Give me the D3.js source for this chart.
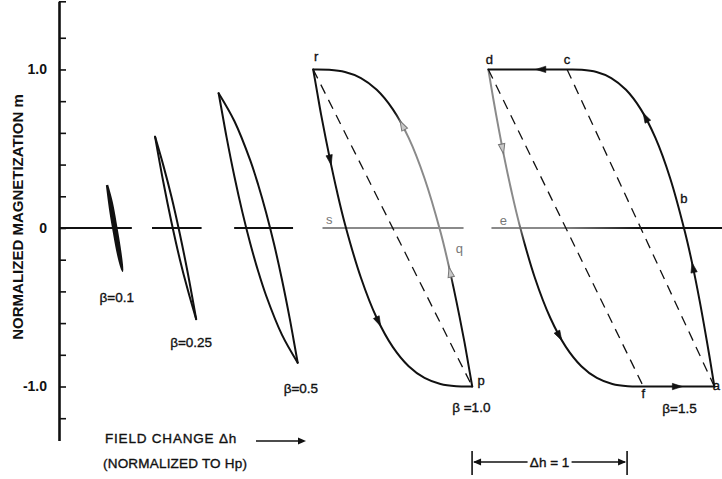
<!DOCTYPE html>
<html><head><meta charset="utf-8">
<script src="https://cdn.jsdelivr.net/npm/d3@7"></script>
<style>
html,body{margin:0;padding:0;background:#fff;}
svg{display:block;}
text{font-family:"Liberation Sans", Arial, sans-serif;fill:#111;}
.ink{stroke:#111;stroke-width:0.35px;}
</style></head><body>
<svg id="chart" width="722" height="479"></svg>
<script>
// Loop amplitudes, their labels, and the field value at each loop's upper tip
const betas = [0.1, 0.25, 0.5, 1.0, 1.5];
const betaLabels = ["β=0.1", "β=0.25", "β=0.5", "β =1.0", "β=1.5"];
const tipField = [0.31, 0.62, 1.03, 1.64, 2.77];

// Descending branches, read from the upper tip: [Δh from tip, m]
const down01 = [[0,0.27],[0.02,0.12],[0.04,0.0],[0.07,-0.16],[0.1,-0.27]];
const down025 = [[0,0.575],[0.053,0.29],[0.106,0.035],[0.159,-0.195],[0.212,-0.395],[0.265,-0.575]];
const down05 = [[0,0.85],[0.026,0.708],[0.051,0.573],[0.102,0.323],[0.153,0.1],[0.204,-0.098],[0.255,-0.273],[0.306,-0.426],[0.408,-0.673],[0.51,-0.85]];
const down10 = [[0,1],[0.026,0.854],[0.051,0.715],[0.103,0.458],[0.154,0.228],[0.205,0.024],[0.308,-0.314],[0.41,-0.568],[0.513,-0.75],[0.616,-0.872],[0.718,-0.946],[0.821,-0.984],[0.923,-0.998],[1.026,-1]];
const down15 = [[0,1],[0.025,0.854],[0.05,0.715],[0.1,0.458],[0.15,0.228],[0.2,0.024],[0.3,-0.314],[0.4,-0.568],[0.5,-0.75],[0.6,-0.872],[0.7,-0.946],[0.8,-0.984],[0.9,-0.998],[1.0,-1],[1.458,-1]];

// Ascending branches, read from the lower tip back to the upper tip
const up01 = [[0.1,-0.27],[0.08,-0.12],[0.06,0.0],[0.03,0.16],[0,0.27]];
const up025 = [[0.265,-0.575],[0.212,-0.29],[0.159,-0.035],[0.106,0.195],[0.053,0.395],[0,0.575]];
const up05 = [[0.51,-0.85],[0.484,-0.708],[0.459,-0.573],[0.408,-0.323],[0.357,-0.1],[0.306,0.098],[0.255,0.273],[0.204,0.426],[0.102,0.673],[0,0.85]];
const up10 = [[1.026,-1],[1.0,-0.854],[0.975,-0.715],[0.923,-0.458],[0.872,-0.228],[0.821,-0.024],[0.718,0.314],[0.616,0.568],[0.513,0.75],[0.41,0.872],[0.308,0.946],[0.205,0.984],[0.103,0.998],[0,1]];
const up15 = [[1.458,-1],[1.434,-0.854],[1.41,-0.715],[1.363,-0.458],[1.316,-0.228],[1.268,-0.024],[1.173,0.314],[1.078,0.568],[0.983,0.75],[0.888,0.872],[0.793,0.946],[0.698,0.984],[0.603,0.998],[0.508,1],[0,1]];

const downBranches = [down01, down025, down05, down10, down15];
const upBranches = [up01, up025, up05, up10, up15];

// Straight reference chords: [loop, Δh start, m start, Δh end, m end]
const chords = [[3,0,1,1.026,-1],[4,0,1,1.0,-1],[4,0.508,1,1.458,-1]];

// Pieces of the m = 0 line: [h start, h end]
const zeroPieces = [[0,0.47],[0.6,0.92],[1.13,1.51],[1.70,2.61],[2.79,4.28]];

// Direction arrows: loop, branch, and where they sit (by m, or by Δh on flat runs)
const arrowSpots = [
  {loop:3, branch:"down", m:0.43},
  {loop:3, branch:"down", m:-0.59},
  {loop:3, branch:"up", m:0.65},
  {loop:3, branch:"up", m:-0.28},
  {loop:4, branch:"up", dh:0.34},
  {loop:4, branch:"up", m:0.70},
  {loop:4, branch:"up", m:-0.25},
  {loop:4, branch:"down", dh:1.22},
  {loop:4, branch:"down", m:-0.68},
  {loop:4, branch:"down", m:0.50}
];

// Lettered points: loop, Δh from tip, m
const letters = [
  {t:"r", loop:3, dh:0, m:1},
  {t:"s", loop:3, dh:0.206, m:0},
  {t:"q", loop:3, dh:0.82, m:0},
  {t:"p", loop:3, dh:1.026, m:-1},
  {t:"d", loop:4, dh:0, m:1},
  {t:"c", loop:4, dh:0.508, m:1},
  {t:"b", loop:4, dh:1.262, m:0},
  {t:"e", loop:4, dh:0.206, m:0},
  {t:"f", loop:4, dh:1.0, m:-1},
  {t:"a", loop:4, dh:1.458, m:-1}
];

const yTickValues = [1.2,1.0,0.8,0.6,0.4,0.2,0,-0.2,-0.4,-0.6,-0.8,-1.0,-1.2];
const yLabelValues = [1, 0, -1];
const yLabelText = ["1.0", "0", "-1.0"];
const bracketField = [2.665, 3.665];

// ---------- drawing ----------
const svg = d3.select("#chart");
const x = d3.scaleLinear().domain([0, 4.3]).range([59, 59 + 4.3 * 155]);
const y = d3.scaleLinear().domain([-1.34, 1.43]).range([440.4, 1.3]);

const INK = "#111", FADED = "#8a8a8a";

// gradients for the faded stretches of the strokes
const defs = svg.append("defs");
function vGrad(id, stops) {
  const g = defs.append("linearGradient").attr("id", id)
    .attr("gradientUnits", "userSpaceOnUse")
    .attr("x1", 0).attr("x2", 0).attr("y1", 0).attr("y2", 479);
  stops.forEach(([py, c]) => g.append("stop").attr("offset", py / 479).attr("stop-color", c));
}
function hGrad(id, stops) {
  const g = defs.append("linearGradient").attr("id", id)
    .attr("gradientUnits", "userSpaceOnUse")
    .attr("x1", 0).attr("x2", 722).attr("y1", 0).attr("y2", 0);
  stops.forEach(([px, c]) => g.append("stop").attr("offset", px / 722).attr("stop-color", c));
}
vGrad("fadeUp10", [[0,INK],[112,INK],[132,FADED],[262,FADED],[285,INK],[479,INK]]);
vGrad("fadeDown15", [[0,FADED],[222,FADED],[245,INK],[479,INK]]);
hGrad("fadeZero5", [[0,FADED],[560,FADED],[640,INK],[722,INK]]);

// y axis: ticks to the right, labels to the left
const yAxis = svg.append("g").attr("transform", `translate(${x(0)},0)`)
  .call(d3.axisRight(y).tickValues(yTickValues.concat([1.43])).tickSize(7).tickSizeOuter(0).tickFormat(""));
yAxis.select(".domain").attr("stroke", INK).attr("stroke-width", 2.6);
yAxis.selectAll(".tick line").attr("stroke", INK).attr("stroke-width", 1.6);

const yLab = svg.append("g").attr("transform", `translate(${x(0) - 9},0)`)
  .call(d3.axisLeft(y).tickValues(yLabelValues).tickSize(0)
    .tickFormat((d, i) => yLabelText[i]));
yLab.select(".domain").remove();
yLab.selectAll("text").attr("font-family", "Liberation Sans, Arial, sans-serif")
  .attr("font-size", 14).attr("font-weight", "bold").attr("fill", INK);

svg.append("text")
  .attr("transform", "translate(17,217) rotate(-90)")
  .attr("text-anchor", "middle").attr("dominant-baseline", "central")
  .attr("font-size", 15).attr("font-weight", "bold")
  .text("NORMALIZED MAGNETIZATION m");

// m = 0 line pieces
svg.append("g").selectAll("line").data(zeroPieces).join("line")
  .attr("x1", d => x(d[0])).attr("x2", d => x(d[1]))
  .attr("y1", y(0)).attr("y2", y(0))
  .attr("stroke", (d, i) => i === 3 ? FADED : i === 4 ? "url(#fadeZero5)" : INK)
  .attr("stroke-width", 1.8);

// loops
function branchPath(points, loop) {
  return d3.line()
    .x(d => x(tipField[loop] + d[0]))
    .y(d => y(d[1]))
    .curve(d3.curveCatmullRom.alpha(0.5))(points);
}

const loopsG = svg.append("g").attr("fill", "none").attr("stroke-linejoin", "miter").attr("stroke-linecap", "round");
// thinnest loop is closed and solid
loopsG.append("path")
  .attr("d", branchPath(down01.concat(up01.slice(1)), 0) + "Z")
  .attr("fill", INK).attr("stroke", INK).attr("stroke-width", 2.4);

const branchNodes = {down: [], up: []};
betas.forEach((b, i) => {
  if (i === 0) return;
  const dStroke = i === 4 ? "url(#fadeDown15)" : INK;
  const uStroke = i === 3 ? "url(#fadeUp10)" : INK;
  branchNodes.down[i] = loopsG.append("path").attr("d", branchPath(downBranches[i], i))
    .attr("stroke", dStroke).attr("stroke-width", 2).node();
  branchNodes.up[i] = loopsG.append("path").attr("d", branchPath(upBranches[i], i))
    .attr("stroke", uStroke).attr("stroke-width", 2).node();
});

// dashed chords
svg.append("g").selectAll("line").data(chords).join("line")
  .attr("x1", d => x(tipField[d[0]] + d[1])).attr("y1", d => y(d[2]))
  .attr("x2", d => x(tipField[d[0]] + d[3])).attr("y2", d => y(d[4]))
  .attr("stroke", INK).attr("stroke-width", 1.3).attr("stroke-dasharray", "10,7");

// direction arrows placed along the branch paths
const fadedArrows = new Set([2, 3, 9]);
const arrowG = svg.append("g");
arrowSpots.forEach((a, k) => {
  const node = branchNodes[a.branch][a.loop];
  const L = node.getTotalLength();
  const N = 600;
  let best = 0, bestErr = Infinity;
  for (let j = 1; j < N; j++) {
    const pt = node.getPointAtLength(L * j / N);
    const err = a.m !== undefined ? Math.abs(pt.y - y(a.m)) : Math.abs(pt.x - x(tipField[a.loop] + a.dh));
    if (err < bestErr) { bestErr = err; best = j; }
  }
  const p0 = node.getPointAtLength(L * (best - 1) / N);
  const p1 = node.getPointAtLength(L * best / N);
  const p2 = node.getPointAtLength(L * (best + 1) / N);
  const ang = Math.atan2(p2.y - p0.y, p2.x - p0.x) * 180 / Math.PI;
  const faded = fadedArrows.has(k);
  arrowG.append("path")
    .attr("d", "M5,0L-5,-3.2L-5,3.2Z")
    .attr("transform", `translate(${p1.x},${p1.y}) rotate(${ang})`)
    .attr("fill", faded ? "#c8c8c8" : INK)
    .attr("stroke", faded ? "#777" : INK).attr("stroke-width", faded ? 1 : 0.6);
});

// point letters
const letterOffset = {r:[3,-8.5], s:[-16,-4], q:[19,25], p:[9,-1.5], d:[1,-5], c:[0,-5],
  b:[0,-25], e:[-17,-3], f:[0,11.5], a:[2,3.5]};
const fadedLetters = new Set(["s","q","e"]);
svg.append("g").selectAll("text").data(letters).join("text")
  .attr("x", d => x(tipField[d.loop] + d.dh) + letterOffset[d.t][0])
  .attr("y", d => y(d.m) + letterOffset[d.t][1])
  .attr("text-anchor", "middle").attr("font-size", 13)
  .attr("class", d => fadedLetters.has(d.t) ? null : "ink")
  .style("fill", d => fadedLetters.has(d.t) ? "#777" : INK)
  .text(d => d.t);

// β labels under each loop's lower tip
const betaOffset = [[-23,31],[-26,28],[-14,30],[-20,25],[-52,26]];
const lowerTip = i => downBranches[i][downBranches[i].length - 1];
svg.append("g").selectAll("text").data(betaLabels).join("text")
  .attr("x", (d, i) => x(tipField[i] + (i === 4 ? 1.458 : lowerTip(i)[0])) + betaOffset[i][0])
  .attr("y", (d, i) => y(-(i === 4 ? 1 : Math.abs(lowerTip(i)[1]))) + betaOffset[i][1])
  .attr("font-size", 13.5).attr("class", "ink")
  .text(d => d);

// field-change caption with arrow
svg.append("text").attr("x", 105).attr("y", 443).attr("font-size", 13.5).attr("class", "ink")
  .attr("letter-spacing", 0.8).text("FIELD CHANGE Δh");
svg.append("text").attr("x", 103).attr("y", 468).attr("font-size", 13.5).attr("class", "ink")
  .attr("letter-spacing", 0.2).text("(NORMALIZED TO Hp)");
svg.append("line").attr("x1", 256).attr("x2", 300).attr("y1", 441).attr("y2", 441)
  .attr("stroke", INK).attr("stroke-width", 1.6);
svg.append("path").attr("d", "M306,441L298,437.5L298,444.5Z").attr("fill", INK);

// Δh = 1 scale bar
const bx0 = x(bracketField[0]), bx1 = x(bracketField[1]), by = 462;
const bar = svg.append("g").attr("stroke", INK).attr("stroke-width", 1.6);
bar.append("line").attr("x1", bx0).attr("x2", bx0).attr("y1", by - 11).attr("y2", by + 13);
bar.append("line").attr("x1", bx1).attr("x2", bx1).attr("y1", by - 11).attr("y2", by + 13);
bar.append("line").attr("x1", bx0 + 2).attr("x2", (bx0 + bx1) / 2 - 22).attr("y1", by).attr("y2", by);
bar.append("line").attr("x1", (bx0 + bx1) / 2 + 22).attr("x2", bx1 - 2).attr("y1", by).attr("y2", by);
svg.append("path").attr("d", `M${bx0 + 1},${by}L${bx0 + 9},${by - 3.5}L${bx0 + 9},${by + 3.5}Z`).attr("fill", INK);
svg.append("path").attr("d", `M${bx1 - 1},${by}L${bx1 - 9},${by - 3.5}L${bx1 - 9},${by + 3.5}Z`).attr("fill", INK);
svg.append("text").attr("x", (bx0 + bx1) / 2).attr("y", by + 5).attr("text-anchor", "middle")
  .attr("font-size", 13.5).attr("class", "ink").text("Δh = 1");
</script>
</body></html>
